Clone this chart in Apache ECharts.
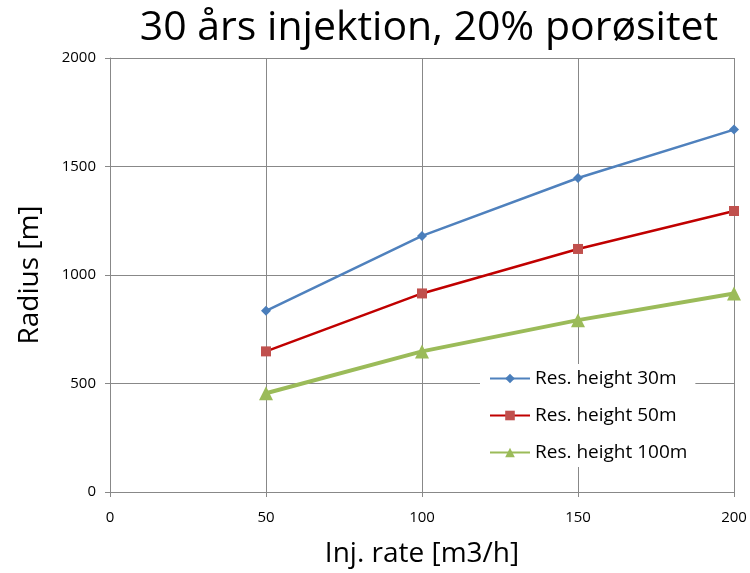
<!DOCTYPE html>
<html><head><meta charset="utf-8">
<script src="https://cdn.jsdelivr.net/npm/echarts@6/dist/echarts.min.js"></script>
<style>html,body{margin:0;padding:0;background:#fff}#c{width:750px;height:573px}</style>
</head><body><div id="c"></div>
<script>
const rates = [50, 100, 150, 200];
const h30 = [835, 1180, 1447, 1670];
const h50 = [648, 915, 1120, 1295];
const h100 = [455, 648, 792, 915];
const seriesNames = ['Res. height 30m', 'Res. height 50m', 'Res. height 100m'];
const xTicks = [0, 50, 100, 150, 200];
const yTicks = [0, 500, 1000, 1500, 2000];

const font = 'Open Sans, Noto Sans, sans-serif';
const chart = echarts.init(document.getElementById('c'));
const pair = arr => rates.map((r, i) => [r, arr[i]]);
chart.setOption({
  animation: false,
  title: {text: '30 års injektion, 20% porøsitet', left: 424, textAlign: 'center', top: 3,
    textStyle: {fontFamily: font, fontSize: 41, fontWeight: 'normal', color: '#000'}},
  grid: {left: 110, right: 16, top: 58, bottom: 81},
  legend: {orient: 'vertical', left: 480, top: 364, itemWidth: 40, itemHeight: 12, itemGap: 16,
    backgroundColor: '#fff', padding: [4, 8, 4, 9],
    textStyle: {fontFamily: font, fontSize: 19, lineHeight: 21, color: '#000'}, data: seriesNames},
  xAxis: {type: 'value', min: xTicks[0], max: xTicks[xTicks.length-1], interval: 50,
    name: 'Inj. rate [m3/h]', nameLocation: 'middle', nameGap: 48,
    nameTextStyle: {fontFamily: font, fontSize: 28, color: '#000'},
    axisLine: {lineStyle: {color: '#888'}}, axisTick: {show: true, length: 5, lineStyle: {color: '#888'}},
    axisLabel: {fontFamily: font, fontSize: 15, color: '#000', margin: 18, formatter: v => String(v)},
    splitLine: {show: true, lineStyle: {color: '#888', width: 1}}},
  yAxis: {type: 'value', min: yTicks[0], max: yTicks[yTicks.length-1], interval: 500,
    name: 'Radius [m]', nameLocation: 'middle', nameGap: 66,
    nameTextStyle: {fontFamily: font, fontSize: 28, color: '#000'},
    axisLine: {show: true, lineStyle: {color: '#888'}}, axisTick: {show: true, length: 5, lineStyle: {color: '#888'}},
    axisLabel: {fontFamily: font, fontSize: 15, color: '#000', margin: 14, formatter: v => String(v)},
    splitLine: {show: true, lineStyle: {color: '#888', width: 1}}},
  series: [
    {name: seriesNames[0], type: 'line', data: pair(h30), symbol: 'diamond', symbolSize: 10,
      lineStyle: {color: '#4f81bd', width: 2.5}, itemStyle: {color: '#4a7ebb'}, z: 3},
    {name: seriesNames[1], type: 'line', data: pair(h50), symbol: 'rect', symbolSize: 10,
      lineStyle: {color: '#c00000', width: 2.5}, itemStyle: {color: '#c0504d'}, z: 3},
    {name: seriesNames[2], type: 'line', data: pair(h100), symbol: 'triangle', symbolSize: 14,
      lineStyle: {color: '#9bbb59', width: 4}, itemStyle: {color: '#9bbb59'}, z: 3}
  ]
});
</script></body></html>
